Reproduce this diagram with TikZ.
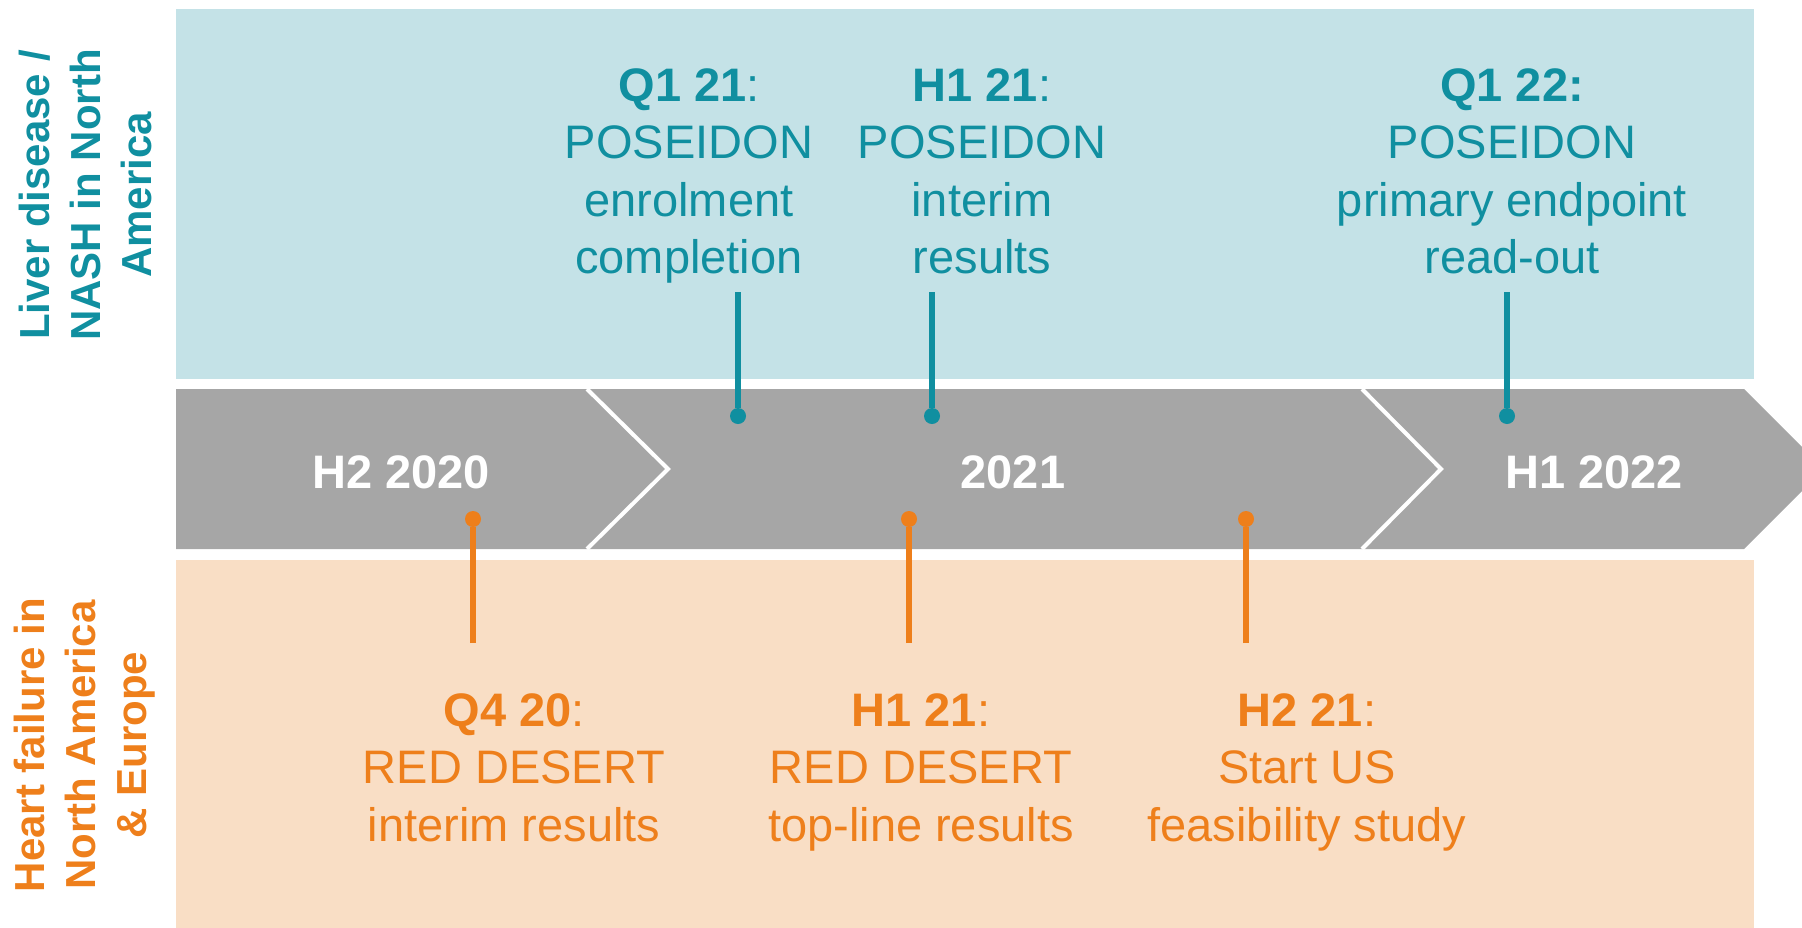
\documentclass[tikz,border=0pt]{standalone}
\usepackage{fontspec}
\setmainfont{Liberation Sans}
\definecolor{posteal}{HTML}{108FA0}
\definecolor{liverbg}{HTML}{C4E2E7}
\definecolor{heartbg}{HTML}{F9DEC5}
\definecolor{heartorange}{HTML}{EE7F1B}
\definecolor{bargray}{HTML}{A6A6A6}
\tikzset{
  milestone/.style={align=center,inner sep=0pt,font=\fontsize{47}{57.5}\selectfont},
  sidelabel/.style={align=center,inner sep=0pt,rotate=90,font=\fontsize{42}{51}\selectfont\bfseries},
  yearlabel/.style={text=white,inner sep=0pt,font=\fontsize{47}{57}\selectfont\bfseries},
  tealline/.style={draw=posteal,line width=6pt},
  orangeline/.style={draw=heartorange,line width=6pt},
  tealdot/.style={circle,fill=posteal,minimum size=16pt,inner sep=0pt},
  orangedot/.style={circle,fill=heartorange,minimum size=16pt,inner sep=0pt}
}
\begin{document}
\begin{tikzpicture}[x=1pt,y=-1pt]
  \useasboundingbox (0,0) rectangle (1802,927);
  \clip (0,0) rectangle (1802,927);
  % bands
  \fill[liverbg] (176,9) rectangle (1754,379);
  \fill[heartbg] (176,560) rectangle (1754,940);
  % time arrow
  \fill[bargray] (176,389) -- (1744,389) -- (1824,469) -- (1744,549) -- (176,549) -- cycle;
  \draw[white,line width=4pt] (587,389) -- (668,469) -- (587,549); % chevron 2020/2021
  \draw[white,line width=4pt] (1362,389) -- (1441,469) -- (1362,549); % chevron 2021/2022
  \node[yearlabel,anchor=base] (h2020) at (401,488) {H2 2020};
  \node[yearlabel,anchor=base] (y2021) at (1013,488) {2021};
  \node[yearlabel,anchor=base] (h2022) at (1594,488) {H1 2022};
  % side labels
  \node[sidelabel,text=posteal] (liver) at (85,195) {Liver disease /\\NASH in North\\America};
  \node[sidelabel,text=heartorange] (heart) at (85,745) {Heart failure in\\North America\\\& Europe};
  % liver milestones (base = last line)
  \node[milestone,text=posteal,anchor=base] (q121) at (689,273.5) {\textbf{Q1 21}:\\POSEIDON\\enrolment\\completion};
  \node[milestone,text=posteal,anchor=base] (h121top) at (982,273.5) {\textbf{H1 21}:\\POSEIDON\\interim\\results};
  \node[milestone,text=posteal,anchor=base] (q122) at (1512,273.5) {\textbf{Q1 22:}\\POSEIDON\\primary endpoint\\read-out};
  \coordinate (q121end) at (738,292);
  \coordinate (h121topend) at (932,292);
  \coordinate (q122end) at (1507,292);
  \node[tealdot] (q121dot) at (738,416) {};
  \node[tealdot] (h121topdot) at (932,416) {};
  \node[tealdot] (q122dot) at (1507,416) {};
  \draw[tealline] (q121end) -- (q121dot);
  \draw[tealline] (h121topend) -- (h121topdot);
  \draw[tealline] (q122end) -- (q122dot);
  % heart milestones (base = last line)
  \node[milestone,text=heartorange,anchor=base] (q420) at (514,841) {\textbf{Q4 20}:\\RED DESERT\\interim results};
  \node[milestone,text=heartorange,anchor=base] (h121bot) at (921,841) {\textbf{H1 21}:\\RED DESERT\\top-line results};
  \node[milestone,text=heartorange,anchor=base] (h221) at (1307,841) {\textbf{H2 21}:\\Start US\\feasibility study};
  \coordinate (q420end) at (473,643);
  \coordinate (h121botend) at (909,643);
  \coordinate (h221end) at (1246,643);
  \node[orangedot] (q420dot) at (473,519) {};
  \node[orangedot] (h121botdot) at (909,519) {};
  \node[orangedot] (h221dot) at (1246,519) {};
  \draw[orangeline] (q420end) -- (q420dot);
  \draw[orangeline] (h121botend) -- (h121botdot);
  \draw[orangeline] (h221end) -- (h221dot);
\end{tikzpicture}
\end{document}
